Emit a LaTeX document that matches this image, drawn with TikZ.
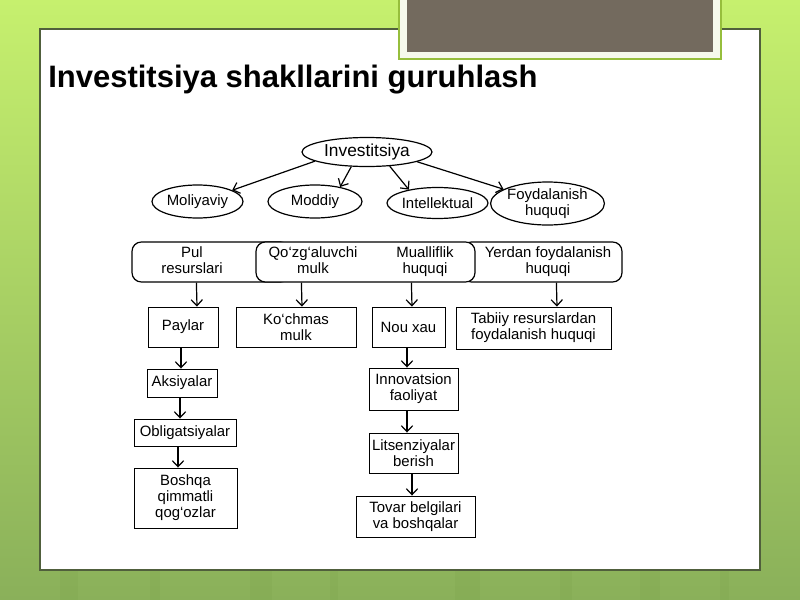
\documentclass[tikz,border=0pt]{standalone}
\usepackage{fontspec}
\setmainfont{Liberation Sans}
\usetikzlibrary{arrows.meta,shapes.geometric,calc}
\definecolor{bgtop}{RGB}{198,240,110}
\definecolor{bgmid}{RGB}{158,206,80}
\definecolor{bgbot}{RGB}{138,176,90}
\definecolor{panelline}{RGB}{80,95,60}
\definecolor{graybox}{RGB}{115,106,94}
\definecolor{framefill}{RGB}{246,249,236}
\definecolor{frameline}{RGB}{150,190,60}
\definecolor{stripe}{RGB}{120,160,70}
\def\u{0.75pt}
\tikzset{
 txtfont/.style={font=\fontsize{11.2}{12}\selectfont},
 ell/.style={draw, ellipse, line width=0.9pt, inner sep=0pt, txtfont, align=center},
 rbox/.style={draw, rounded corners=7pt, line width=0.9pt, fill=white, inner sep=0pt, minimum height=40*\u, txtfont},
 sbox/.style={draw, line width=0.7pt, inner sep=0pt, txtfont, align=center},
 arr/.style={-{Straight Barb[length=4.5pt,width=8.5pt]}, line width=0.9pt},
}
\begin{document}
\begin{tikzpicture}[x=0.75pt,y=-0.75pt]
\useasboundingbox (0,0) rectangle (800,600);
% background
\shade[top color=bgtop, middle color=bgmid, bottom color=bgbot] (0,0) rectangle (800,600);
\foreach \xa/\w in {60/18,150/10,250/22,330/8,455/25,560/12,640/20,720/9}{
  \fill[stripe, opacity=0.18] (\xa,430) rectangle (\xa+\w,600);
}
% white panel
\draw[draw=panelline, line width=0.8pt, fill=white] (40,29) rectangle (760,570);
% gray box with frame
\filldraw[fill=framefill, draw=frameline, line width=0.8pt] (399,-5) rectangle (721,59);
\fill[graybox] (407,-5) rectangle (713,52);
% title
\node[anchor=base west, inner sep=0pt, font=\fontsize{23.25}{28}\selectfont\bfseries] (title) at (48,87) {Investitsiya shakllarini guruhlash};

% ellipses
\node[ell, minimum width=130*\u, minimum height=29*\u, font=\fontsize{13}{14}\selectfont] (inv) at (367,152) {Investitsiya};
\node[ell, minimum width=91*\u, minimum height=33*\u] (mol) at (197.5,201.5) {Moliyaviy};
\node[ell, minimum width=94*\u, minimum height=33*\u] (mod) at (315,201.5) {Moddiy};
\node[ell, minimum width=91*\u, minimum height=31*\u] (int) at (437.5,203) {Intellektual};
\node[ell, minimum width=99*\u, minimum height=43*\u] (foy) at (547.5,203.5) {Foydalanish\\huquqi};

\draw[arr] (inv.190) -- (mol.18);
\draw[arr] (inv.223) -- (mod.30);
\draw[arr] (inv.328) -- (int.155);
\draw[arr] (inv.349) -- (foy.162);

% rounded boxes row
\node[rbox, minimum width=158*\u] (b1) at (211,262) {\begin{tabular}{@{}c@{}}Pul\\resurslari\end{tabular}\hspace*{28.5pt}};
\node[rbox, minimum width=160*\u] (b3) at (542,262) {\hspace*{9pt}\begin{tabular}{@{}c@{}}Yerdan foydalanish\\huquqi\end{tabular}};
\node[rbox, minimum width=219*\u] (b2) at (365.5,262) {\hspace*{5.25pt}\makebox[75pt]{\begin{tabular}{@{}c@{}}Qo‘zg‘aluvchi\\mulk\end{tabular}}\hspace*{9pt}\makebox[75pt]{\begin{tabular}{@{}c@{}}Mualliflik\\huquqi\end{tabular}}};

% lower boxes
\node[sbox, minimum width=70*\u, minimum height=40*\u] (pay) at (183,327) {Paylar};
\node[sbox, minimum width=120*\u, minimum height=40*\u] (kom) at (296,327) {Ko‘chmas\\mulk};
\node[sbox, minimum width=73*\u, minimum height=40*\u] (nou) at (408.5,327) {Nou xau};
\node[sbox, minimum width=155*\u, minimum height=42*\u] (tab) at (533.5,328) {Tabiiy resurslardan\\foydalanish huquqi};
\node[sbox, minimum width=70*\u, minimum height=28*\u] (aks) at (182,383) {Aksiyalar};
\node[sbox, minimum width=102*\u, minimum height=27*\u] (obl) at (185,432.5) {Obligatsiyalar};
\node[sbox, minimum width=103*\u, minimum height=60*\u] (bos) at (185.5,498) {Boshqa\\qimmatli\\qog‘ozlar};
\node[sbox, minimum width=89*\u, minimum height=42*\u] (inn) at (413.5,389) {Innovatsion\\faoliyat};
\node[sbox, minimum width=89*\u, minimum height=40*\u] (lit) at (413.5,453) {Litsenziyalar\\berish};
\node[sbox, minimum width=119*\u, minimum height=41*\u] (tov) at (415.5,516.5) {Tovar belgilari\\va boshqalar};

% connectors
\draw[arr] ($(b1.south west)+(65,0)$) -- ($(pay.north)+(14,0)$);
\draw[arr] ($(b2.south west)+(46,0)$) -- ($(kom.north)+(6,0)$);
\draw[arr] ($(b2.south west)+(156,0)$) -- ($(nou.north)+(3.5,0)$);
\draw[arr] ($(b3.south west)+(95,0)$) -- ($(tab.north)+(23.5,0)$);
\draw[arr] ($(pay.south)+(-2,0)$) -- ($(aks.north)+(-1,0)$);
\draw[arr] ($(aks.south)+(-2,0)$) -- ($(obl.north)+(-5,0)$);
\draw[arr] ($(obl.south)+(-7,0)$) -- ($(bos.north)+(-7.5,0)$);
\draw[arr] ($(nou.south)+(-1.5,0)$) -- ($(inn.north)+(-6.5,0)$);
\draw[arr] ($(inn.south)+(-6.5,0)$) -- ($(lit.north)+(-6.5,0)$);
\draw[arr] ($(lit.south)+(-1.5,0)$) -- ($(tov.north)+(-3.5,0)$);
\end{tikzpicture}
\end{document}
